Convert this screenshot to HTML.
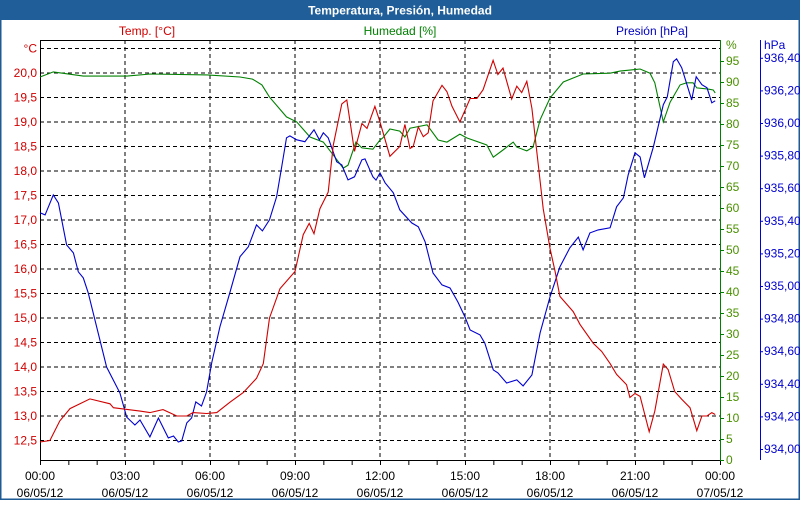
<!DOCTYPE html>
<html><head><meta charset="utf-8"><style>
html,body{margin:0;padding:0;background:#fff}
body{width:800px;height:500px;overflow:hidden;font-family:"Liberation Sans",sans-serif}
svg text{font-family:"Liberation Sans",sans-serif;font-size:12px}
</style></head><body>
<svg id="chart" width="800" height="500" viewBox="0 0 800 500" xmlns="http://www.w3.org/2000/svg">
<rect x="0" y="0" width="800" height="500" fill="#fff"/>
<rect x="0" y="0" width="800" height="500" fill="none" stroke="#1e5a94" stroke-width="3"/>
<rect x="0" y="0" width="800" height="20" fill="#1f5e98"/>
<text x="400" y="14.5" text-anchor="middle" fill="#fff" font-weight="bold">Temperatura, Presión, Humedad</text>
<text x="147" y="35" text-anchor="middle" fill="#d00000">Temp. [°C]</text>
<text x="400" y="35" text-anchor="middle" fill="#008000">Humedad [%]</text>
<text x="652" y="35" text-anchor="middle" fill="#0000c0">Presión [hPa]</text>
<g id="grid"></g>
<g id="axes"></g>
<g id="series"></g>
</svg>
<script>
const hours=[0,3,6,9,12,15,18,21,24];
const dateLabels=["06/05/12","06/05/12","06/05/12","06/05/12","06/05/12","06/05/12","06/05/12","06/05/12","07/05/12"];
const timeLabels=["00:00","03:00","06:00","09:00","12:00","15:00","18:00","21:00","00:00"];
const tempTicks=[20.0,19.5,19.0,18.5,18.0,17.5,17.0,16.5,16.0,15.5,15.0,14.5,14.0,13.5,13.0,12.5];
const humTicks=[95,90,85,80,75,70,65,60,55,50,45,40,35,30,25,20,15,10,5,0];
const presTicks=[936.4,936.2,936.0,935.8,935.6,935.4,935.2,935.0,934.8,934.6,934.4,934.2,934.0];

const tempT=[0,0.35,0.7,1.06,1.76,2.47,2.59,3.53,3.88,4.34,4.83,5.18,5.4,5.88,6.24,6.7,7.18,7.64,7.88,8.1,8.47,9.0,9.29,9.5,9.67,9.88,10.17,10.35,10.65,10.83,11.1,11.36,11.54,11.82,12,12.35,12.7,12.88,13.06,13.17,13.35,13.53,13.7,13.87,14.19,14.36,14.54,14.82,15.18,15.42,15.64,15.99,16.16,16.34,16.65,16.83,17.0,17.18,17.36,17.6,17.76,18,18.18,18.35,18.82,19.06,19.53,19.82,20.12,20.35,20.7,20.82,21.0,21.18,21.5,21.7,22.0,22.17,22.4,22.65,22.94,23.18,23.36,23.54,23.71,23.83];
const tempV=[12.47,12.5,12.9,13.15,13.35,13.25,13.17,13.1,13.07,13.13,13.0,13.0,13.07,13.05,13.07,13.28,13.48,13.77,14.07,15.0,15.6,15.95,16.7,16.93,16.72,17.23,17.57,18.53,19.37,19.45,18.4,18.97,18.87,19.32,19.0,18.3,18.5,18.95,18.46,18.5,18.9,18.7,18.78,19.43,19.75,19.62,19.32,19.0,19.48,19.48,19.66,20.26,19.97,20.1,19.47,19.73,19.6,19.83,19.28,18.05,17.23,16.42,15.95,15.44,15.13,14.87,14.48,14.32,14.07,13.85,13.64,13.38,13.46,13.4,12.68,13.1,14.06,13.95,13.5,13.34,13.17,12.7,13.0,13.0,13.07,13.03];

const humT=[0,0.47,1.53,3.06,3.9,5.9,7.06,7.5,7.83,8.1,8.7,9.06,9.53,10,10.35,10.7,10.87,11.15,11.36,11.75,12,12.1,12.35,12.7,12.88,13.06,13.66,14.05,14.36,14.82,15.06,15.77,16,16.34,16.7,16.83,17.18,17.4,17.65,18,18.47,19.17,20.12,20.47,21.18,21.53,21.7,22,22.24,22.59,22.82,23.05,23.18,23.58,23.76,23.83];
const humV=[91.2,92.4,91.4,91.4,91.9,91.7,91.2,90.7,89.3,86.4,81.7,80.5,76.9,75.7,72.6,69.5,70.2,75.7,74.3,74.0,76.2,76.7,78.8,78.3,76.9,79,79.8,76.2,75.7,77.6,76.7,75,72.1,73.8,75.7,74.5,73.6,74.5,81,86.2,90,91.9,92.1,92.6,93.1,92.1,89.8,80.5,85.2,89.3,89.8,89.8,88.6,88.3,88.1,87.4];

const presT=[0,0.18,0.47,0.65,0.94,1.18,1.35,1.53,1.7,2.35,2.82,3.06,3.35,3.53,3.88,4.18,4.53,4.71,4.88,5.0,5.18,5.35,5.5,5.7,5.88,6.06,6.35,6.7,7.06,7.35,7.64,7.85,8.1,8.35,8.53,8.7,8.82,9.06,9.35,9.67,9.86,10,10.17,10.47,10.65,10.87,11.1,11.36,11.47,11.75,11.86,12,12.18,12.47,12.7,13.12,13.35,13.59,13.87,14.19,14.47,14.75,15.0,15.18,15.53,15.7,16,16.16,16.47,16.83,17.05,17.36,17.65,18,18.35,18.7,19.0,19.17,19.41,19.7,20.12,20.35,20.59,20.76,21.0,21.18,21.33,21.65,22,22.14,22.35,22.47,22.65,23.0,23.16,23.36,23.54,23.71,23.83];
const presV=[935.449,935.436,935.559,935.51,935.252,935.203,935.087,935.05,934.958,934.503,934.344,934.196,934.147,934.178,934.074,934.19,934.068,934.08,934.043,934.05,934.16,934.19,934.289,934.264,934.35,934.528,934.749,934.958,935.18,935.24,935.375,935.338,935.406,935.547,935.731,935.909,935.921,935.897,935.885,935.958,935.897,935.94,935.909,935.762,935.743,935.651,935.67,935.774,935.78,935.67,935.65,935.694,935.633,935.572,935.467,935.387,935.363,935.271,935.08,935.007,934.988,934.902,934.81,934.73,934.7,934.65,934.485,934.467,934.405,934.424,934.387,934.454,934.712,934.933,935.117,935.234,935.3,935.222,935.326,935.344,935.357,935.486,935.541,935.682,935.817,935.792,935.664,935.854,936.112,936.161,936.376,936.394,936.339,936.142,936.284,936.235,936.216,936.124,936.136];

const NS="http://www.w3.org/2000/svg";
const X0=40,X1=720,Y0=40,Y1=460;
function xs(h){return X0+h*(X1-X0)/24;}
function yT(v){return 73+(20-v)*49;}
function yH(v){return 460-v*4.2;}
function yP(v){return 449-(v-934)*163;}
function mk(tag,attrs,parent){const e=document.createElementNS(NS,tag);for(const k in attrs)e.setAttribute(k,attrs[k]);parent.appendChild(e);return e;}
const grid=document.getElementById('grid'),axes=document.getElementById('axes'),series=document.getElementById('series');

// horizontal grid on temperature ticks (plus 20.5)
[20.5].concat(tempTicks).forEach(v=>{
  const l=mk('line',{x1:X0,x2:X1,y1:yT(v),y2:yT(v),stroke:'#000','stroke-dasharray':'4,3','stroke-width':1},grid);
  
  
});
hours.slice(1,-1).forEach(h=>{
  const l=mk('line',{x1:xs(h),x2:xs(h),y1:Y0,y2:Y1,stroke:'#000','stroke-dasharray':'4,3','stroke-width':1},grid);
  
  
});

// frame / axes
let a=mk('line',{x1:X0,x2:X1,y1:Y0+0.5,y2:Y0+0.5,stroke:'#000'},axes);


a=mk('line',{x1:X0+0.5,x2:X0+0.5,y1:Y0,y2:Y1,stroke:'#000'},axes);


a=mk('line',{x1:X0,x2:X1,y1:Y1+0.5,y2:Y1+0.5,stroke:'#000'},axes);


a=mk('line',{x1:X1+0.5,x2:X1+0.5,y1:Y0,y2:Y1,stroke:'#008000'},axes);


a=mk('line',{x1:760.5,x2:760.5,y1:Y0,y2:Y1,stroke:'#0000d0'},axes);



// x ticks
for(let h=0;h<=24;h++){
  const t=mk('line',{x1:xs(h)+0.5,x2:xs(h)+0.5,y1:Y1,y2:Y1+5,stroke:'#000'},axes);
  
  
}
hours.forEach((h,i)=>{
  let t=mk('text',{x:xs(h),y:480,'text-anchor':'middle',fill:'#000'},axes);t.textContent=timeLabels[i];
  
  
  t=mk('text',{x:xs(h),y:497,'text-anchor':'middle',fill:'#000'},axes);t.textContent=dateLabels[i];
  
  
});
// temp labels
let u=mk('text',{x:37,y:yT(20.5)+4,'text-anchor':'end',fill:'#d00000'},axes);u.textContent='°C';


tempTicks.forEach(v=>{
  const t=mk('text',{x:37,y:yT(v)+4,'text-anchor':'end',fill:'#d00000'},axes);
  t.textContent=v.toFixed(1).replace('.',',');
  
  
});
u=mk('text',{x:726,y:49,fill:'#4a9000'},axes);u.textContent='%';


humTicks.forEach(v=>{
  const k=mk('line',{x1:X1,x2:X1+4,y1:yH(v)+0.5,y2:yH(v)+0.5,stroke:'#008000'},axes);
  
  
  const t=mk('text',{x:726,y:yH(v)+4,fill:'#4a9000'},axes);
  t.textContent=String(v);
  
  
});
u=mk('text',{x:764,y:49,fill:'#0000d0'},axes);u.textContent='hPa';


presTicks.forEach(v=>{
  const k=mk('line',{x1:760,x2:763,y1:yP(v)+0.5,y2:yP(v)+0.5,stroke:'#0000d0'},axes);
  
  
  const t=mk('text',{x:764,y:yP(v)+4,fill:'#0000d0'},axes);
  t.textContent=v.toFixed(2).replace('.',',');
  
  
});

function line(T,V,yf,color,name){
  const d=T.map((t,i)=>(i?'L':'M')+xs(t).toFixed(1)+','+yf(V[i]).toFixed(1)).join(' ');
  const p=mk('path',{d:d,fill:'none',stroke:color,'stroke-width':1.1},series);
  
  
}
line(humT,humV,yH,'#008000','humidity-line');
line(presT,presV,yP,'#0000d0','pressure-line');
line(tempT,tempV,yT,'#d00000','temperature-line');
</script>
</body></html>
